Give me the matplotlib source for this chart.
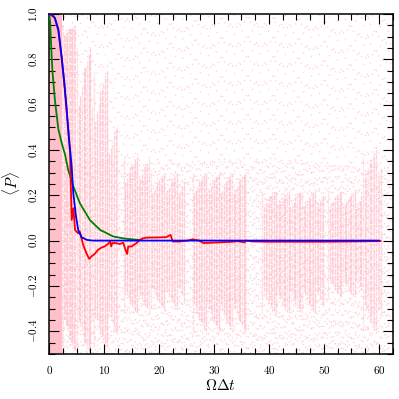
import numpy as np
import matplotlib
matplotlib.use("Agg")
import matplotlib.pyplot as plt
from matplotlib.ticker import MultipleLocator, FuncFormatter

plt.rcParams['mathtext.fontset'] = 'cm'
plt.rcParams['font.family'] = ['DejaVu Serif']

# ---- data ----
# mean <P> (red)
red_x = [0.0, 1.0, 1.7, 2.3, 2.8, 3.2, 3.6, 3.8, 4.12, 4.42, 4.73, 5.3, 5.6, 5.9, 6.2, 6.8,
         7.3, 7.7, 8.3, 8.9, 9.5, 10.1, 10.7, 11.1, 11.3, 11.5, 12.2, 12.8, 13.5, 13.9,
         14.2, 14.4, 15.0, 15.9, 16.5, 17.1, 17.7, 19.5, 21.3, 22.1, 22.5, 23.7, 25.2,
         26.1, 27.3, 28.1, 30.8, 32.6, 34.4, 35.6, 35.8, 37.0, 40.0, 45.0, 50.0, 55.0, 60.3]
red_y = [1.0, 0.985, 0.925, 0.80, 0.68, 0.57, 0.45, 0.39, 0.091, 0.143, 0.047, 0.032, 0.04,
         0.01, -0.019, -0.056, -0.081, -0.07, -0.059, -0.041, -0.031, -0.026, -0.015,
         -0.004, -0.026, -0.011, -0.011, -0.015, -0.01, -0.041, -0.059, -0.026, -0.026,
         -0.011, 0.003, 0.01, 0.013, 0.014, 0.015, 0.025, -0.004, -0.004, 0.0, 0.006, 0.0,
         -0.011, -0.008, -0.006, -0.003, -0.008, 0.0, -0.004, -0.005, -0.005, -0.005,
         -0.004, -0.002]
# blue curve
blue_x = [0.0, 0.5, 1.09, 1.7, 2.3, 2.8, 3.2, 3.6, 4.1, 4.4, 4.9, 5.3, 5.9, 6.9, 8.0, 60.0]
blue_y = [1.0, 0.998, 0.98, 0.93, 0.81, 0.69, 0.58, 0.46, 0.33, 0.21, 0.106, 0.047, 0.015,
          0.003, 0.0, 0.0]
# green curve
green_x = [0.0, 0.18, 0.36, 0.6, 1.1, 1.7, 2.3, 2.9, 3.5, 4.4, 5.6, 7.45, 9.3, 11.7, 13.5,
           15.3, 16.8]
green_y = [1.0, 0.97, 0.87, 0.75, 0.61, 0.49, 0.43, 0.38, 0.31, 0.24, 0.165, 0.09, 0.047,
           0.018, 0.01, 0.005, 0.002]
# pink sample cloud: blocks of dense vertical streaks
pink_x0 = [0.0, 2.5, 5.0, 8.0, 10.5, 13.5, 18.4, 26.0, 38.7, 50.7, 57.0]
pink_x1 = [2.5, 5.0, 8.0, 10.5, 12.5, 18.4, 24.7, 36.0, 50.0, 57.0, 60.6]
pink_lo = [-0.5, -0.5, -0.5, -0.47, -0.45, -0.32, -0.30, -0.40, -0.32, -0.25, -0.40]
pink_hi = [1.0, 0.95, 0.85, 0.75, 0.55, 0.37, 0.30, 0.30, 0.22, 0.22, 0.40]
pink_a = [1.0, 0.95, 0.85, 0.8, 0.7, 0.8, 0.75, 0.8, 0.75, 0.75, 0.65]

fig = plt.figure(figsize=(3.99, 3.99), dpi=100)
ax = fig.add_axes([0.123, 0.113, 0.861, 0.852])

# sparse background samples (texture only)
bg_x = np.arange(0.15, 62.5, 0.36)
for i, xv in enumerate(bg_x):
    off = (i * i * 1.618) % 14
    ax.vlines(xv, -0.5, 1.0, colors='pink', lw=1.0, alpha=0.7,
              linestyles=[(off, (1.0, 13.0))], zorder=1)
    off2 = (i * i * 2.414) % 8
    ax.vlines(xv, -0.5, 0.35, colors='pink', lw=1.0, alpha=0.7,
              linestyles=[(off2, (1.0, 7.0))], zorder=1)

hfac = [1.0, 0.8, 0.93, 0.7, 0.88, 0.97, 0.75, 0.9]
for k, (x0, x1, lo, hi, a) in enumerate(zip(pink_x0, pink_x1, pink_lo, pink_hi, pink_a)):
    xs = np.arange(x0 + 0.1, x1, 0.3)
    for j, xv in enumerate(xs):
        f = hfac[(j * 3) % len(hfac)]
        if k == 0:
            ax.vlines(xv, lo, hi, colors='pink', lw=1.5, alpha=a, zorder=1)
            continue
        aj = a * (1.0 if j % 3 else 0.6)
        top = hi * f if k > 1 else hi * (0.85 + 0.15 * f)
        ax.vlines(xv, lo * f, top, colors='pink', lw=1.1 if k == 1 else 0.95, alpha=aj,
                  linestyles=[((j * 1.3) % 3, (4.0, 0.7))], zorder=1)

ax.plot(green_x, green_y, color='green', lw=1.3, zorder=3)
ax.plot(red_x, red_y, color='red', lw=1.3, zorder=4)
ax.plot(blue_x, blue_y, color='blue', lw=1.3, zorder=5)

ax.set_xlim(0, 62.5)
ax.set_ylim(-0.5, 1.0)
ax.xaxis.set_major_locator(MultipleLocator(10))
ax.xaxis.set_minor_locator(MultipleLocator(2.5))
ax.yaxis.set_major_locator(MultipleLocator(0.2))
ax.yaxis.set_minor_locator(MultipleLocator(0.05))
ax.xaxis.set_major_formatter(FuncFormatter(lambda v, p: r"$%d$" % round(v)))
ax.yaxis.set_major_formatter(FuncFormatter(lambda v, p: r"$%.1f$" % v))
ax.tick_params(which='both', direction='in', top=True, right=True, width=0.8,
               labelsize=8)
ax.tick_params(which='major', length=7.5)
ax.tick_params(which='minor', length=4)
ax.tick_params(axis='x', pad=7)
ax.tick_params(axis='y', pad=7)
for lab in ax.get_yticklabels():
    lab.set_rotation(90)
    lab.set_va('center')
for s in ax.spines.values():
    s.set_linewidth(1.1)

ax.set_xlabel(r"$\Omega\Delta t$", fontsize=11, labelpad=2)
ax.set_ylabel(r"$\langle P\rangle$", fontsize=11, labelpad=4)

fig.savefig("out.png", dpi=100)
